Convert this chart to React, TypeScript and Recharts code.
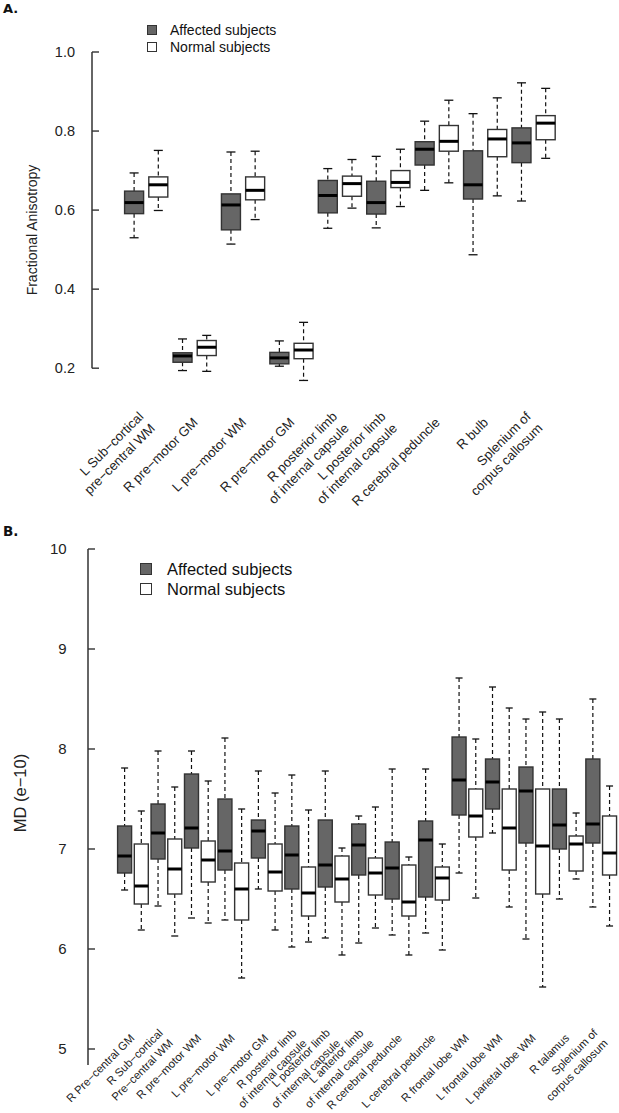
"use client";
import React from "react";
import { Bar, ComposedChart, Legend, ReferenceLine, XAxis, YAxis } from "recharts";

// Panel A: fractional anisotropy
const faRegions = [
  "L Sub−cortical\npre−central WM",
  "R pre−motor GM",
  "L pre−motor WM",
  "R pre−motor GM",
  "R posterior limb\nof internal capsule",
  "L posterior limb\nof internal capsule",
  "R cerebral peduncle",
  "R bulb",
  "Splenium of\ncorpus callosum",
];
// each box is [min, Q1, median, Q3, max]
const faAffected = [
  [0.53, 0.591, 0.619, 0.648, 0.694],
  [0.194, 0.215, 0.231, 0.239, 0.274],
  [0.514, 0.55, 0.613, 0.641, 0.747],
  [0.205, 0.211, 0.226, 0.24, 0.269],
  [0.554, 0.593, 0.637, 0.675, 0.705],
  [0.555, 0.59, 0.619, 0.673, 0.736],
  [0.65, 0.714, 0.754, 0.773, 0.825],
  [0.487, 0.628, 0.664, 0.75, 0.844],
  [0.623, 0.72, 0.77, 0.808, 0.922],
];
const faNormal = [
  [0.599, 0.633, 0.664, 0.684, 0.751],
  [0.192, 0.232, 0.253, 0.27, 0.283],
  [0.576, 0.626, 0.65, 0.684, 0.749],
  [0.169, 0.224, 0.246, 0.263, 0.316],
  [0.605, 0.635, 0.667, 0.686, 0.728],
  [0.609, 0.657, 0.67, 0.7, 0.754],
  [0.669, 0.749, 0.774, 0.814, 0.878],
  [0.636, 0.735, 0.78, 0.804, 0.884],
  [0.731, 0.778, 0.82, 0.839, 0.908],
];
const faTicks = [0.2, 0.4, 0.6, 0.8, 1.0];

// Panel B: mean diffusivity
const mdRegions = [
  "R Pre−central GM",
  "R Sub−cortical\nPre−central WM",
  "R pre−motor WM",
  "L pre−motor WM",
  "L pre−motor GM",
  "R posterior limb\nof internal capsule",
  "L posterior limb\nof internal capsule",
  "L anterior limb\nof internal capsule",
  "R cerebral peduncle",
  "L cerebral peduncle",
  "R frontal lobe WM",
  "L frontal lobe WM",
  "L parietal lobe WM",
  "R talamus",
  "Splenium of\ncorpus callosum",
];
const mdAffected = [
  [6.59, 6.76, 6.93, 7.23, 7.81],
  [6.43, 6.9, 7.16, 7.45, 7.98],
  [6.31, 7.01, 7.21, 7.75, 7.98],
  [6.29, 6.79, 6.98, 7.5, 8.11],
  [6.6, 6.91, 7.18, 7.29, 7.78],
  [6.02, 6.6, 6.94, 7.23, 7.74],
  [6.11, 6.62, 6.84, 7.29, 7.78],
  [6.06, 6.74, 7.04, 7.25, 7.33],
  [6.14, 6.5, 6.81, 7.07, 7.8],
  [6.16, 6.52, 7.09, 7.28, 7.8],
  [6.76, 7.34, 7.69, 8.12, 8.71],
  [7.16, 7.4, 7.67, 7.9, 8.62],
  [6.1, 7.06, 7.58, 7.82, 8.3],
  [6.5, 7.0, 7.24, 7.6, 8.3],
  [6.42, 7.06, 7.25, 7.9, 8.5],
];
const mdNormal = [
  [6.19, 6.45, 6.63, 7.05, 7.38],
  [6.13, 6.55, 6.8, 7.1, 7.62],
  [6.26, 6.67, 6.89, 7.08, 7.68],
  [5.71, 6.29, 6.6, 6.86, 7.4],
  [6.19, 6.58, 6.77, 7.05, 7.56],
  [6.07, 6.33, 6.56, 6.82, 7.39],
  [5.94, 6.47, 6.7, 6.93, 7.01],
  [6.21, 6.54, 6.76, 6.91, 7.42],
  [5.94, 6.33, 6.47, 6.84, 6.92],
  [5.99, 6.49, 6.71, 6.82, 7.05],
  [6.51, 7.12, 7.33, 7.6, 8.1],
  [6.42, 6.79, 7.21, 7.6, 8.41],
  [5.62, 6.55, 7.03, 7.6, 8.37],
  [6.7, 6.78, 7.05, 7.13, 7.36],
  [6.23, 6.74, 6.96, 7.33, 7.63],
];
const mdTicks = [5, 6, 7, 8, 9, 10];

const groups = ["Affected subjects", "Normal subjects"];

const FONT = '"Liberation Sans", Arial, Helvetica, sans-serif';
const DARK = "#666666";
const EDGE = "#333333";

// box + whiskers drawn inside the [min, max] range bar
const boxShape = (field: "aff" | "nor", fill: string, capW: number, medW: number) =>
  function BoxShape(props: any) {
    const { x, y, width, height, payload } = props;
    const [lo, q1, med, q3, hi] = payload[field];
    const top = Math.min(y, y + height);
    const bot = Math.max(y, y + height);
    const py = (v: number) => (hi === lo ? top : top + ((hi - v) / (hi - lo)) * (bot - top));
    const cx = x + width / 2;
    return (
      <g>
        <line x1={cx} x2={cx} y1={py(hi)} y2={py(q3)} stroke="#111" strokeWidth={1.2} strokeDasharray="4 3" />
        <line x1={cx} x2={cx} y1={py(q1)} y2={py(lo)} stroke="#111" strokeWidth={1.2} strokeDasharray="4 3" />
        <line x1={cx - capW / 2} x2={cx + capW / 2} y1={py(hi)} y2={py(hi)} stroke="#111" strokeWidth={1.3} />
        <line x1={cx - capW / 2} x2={cx + capW / 2} y1={py(lo)} y2={py(lo)} stroke="#111" strokeWidth={1.3} />
        <rect x={x} y={py(q3)} width={width} height={py(q1) - py(q3)} fill={fill} stroke={EDGE} strokeWidth={1.4} />
        <line x1={x} x2={x + width} y1={py(med)} y2={py(med)} stroke="#000" strokeWidth={medW} />
      </g>
    );
  };

const YTick = (props: any) => {
  const { x, y, payload, gap, fs, digits } = props;
  const ax = x + gap;
  return (
    <g>
      <line x1={ax} x2={ax + 7} y1={y} y2={y} stroke={EDGE} strokeWidth={1.4} />
      <text x={x} y={y} dy="0.36em" textAnchor="end" fontSize={fs} fontFamily={FONT} fill="#222">
        {payload.value.toFixed(digits)}
      </text>
    </g>
  );
};

const CatTick = (props: any) => {
  const { x, y, payload, dx0, dy0, fs, lh } = props;
  const lines = String(payload.value).split("\n");
  const ax = x + dx0;
  const ay = y + dy0;
  return (
    <text transform={`rotate(-45, ${ax}, ${ay})`} textAnchor="end" fontSize={fs} fontFamily={FONT} fill="#222">
      {lines.map((l, i) => (
        <tspan key={i} x={ax} y={ay + (i - (lines.length - 1) / 2) * lh} dy="0.35em">
          {l}
        </tspan>
      ))}
    </text>
  );
};

const AxisTitle = ({ cxPos, cyPos, fs, text }: any) => (
  <text
    x={cxPos}
    y={cyPos}
    transform={`rotate(-90, ${cxPos}, ${cyPos})`}
    textAnchor="middle"
    dy="0.35em"
    fontSize={fs}
    fontFamily={FONT}
    fill="#222"
  >
    {text}
  </text>
);

const LegendRows = ({ box, fs, row, gap }: any) => (
  <div style={{ fontFamily: FONT, fontSize: fs, color: "#111" }}>
    {groups.map((g, i) => (
      <div key={g} style={{ display: "flex", alignItems: "center", height: row }}>
        <span
          style={{
            display: "inline-block",
            boxSizing: "border-box",
            width: box,
            height: box,
            border: `1.4px solid ${EDGE}`,
            background: i === 0 ? DARK : "#fff",
            marginRight: gap,
          }}
        />
        <span>{g}</span>
      </div>
    ))}
  </div>
);

const FaPanel = () => {
  const data = faRegions.map((name, i) => ({ name, aff: faAffected[i], nor: faNormal[i] }));
  return (
    <ComposedChart
      width={619}
      height={530}
      data={data}
      margin={{ top: 52, right: 40, bottom: 0, left: 0 }}
      barSize={19}
      barGap={5.2}
    >
      <XAxis
        dataKey="name"
        interval={0}
        height={146}
        axisLine={false}
        tickLine={false}
        tickSize={0}
        tickMargin={0}
        padding={{ left: 29.6, right: 21.6 }}
        tick={(p: any) => <CatTick {...p} dx0={1} dy0={36} fs={13.2} lh={16.5} />}
      />
      <XAxis xAxisId="frame" type="number" domain={[0, 1]} hide />
      <YAxis
        width={92}
        domain={[0.16, 1.0]}
        ticks={faTicks}
        axisLine={false}
        tickLine={false}
        tickSize={0}
        tickMargin={17}
        tick={(p: any) => <YTick {...p} gap={17} fs={14.5} digits={1} />}
        label={<AxisTitle cxPos={32.5} cyPos={230} fs={14} text="Fractional Anisotropy" />}
      />
      <ReferenceLine
        xAxisId="frame"
        segment={[
          { x: 0, y: faTicks[0] },
          { x: 0, y: faTicks[faTicks.length - 1] },
        ]}
        stroke={EDGE}
        strokeWidth={1.5}
      />
      <Legend
        layout="vertical"
        align="center"
        verticalAlign="middle"
        wrapperStyle={{ top: 21.5, left: 147, width: 220 }}
        content={() => <LegendRows box={10} fs={14} row={17} gap={13} />}
      />
      <Bar dataKey={(d: any) => [d.aff[0], d.aff[4]]} name={groups[0]} shape={boxShape("aff", DARK, 9, 3)} isAnimationActive={false} />
      <Bar dataKey={(d: any) => [d.nor[0], d.nor[4]]} name={groups[1]} shape={boxShape("nor", "#fff", 9, 3)} isAnimationActive={false} />
    </ComposedChart>
  );
};

const MdPanel = () => {
  const data = mdRegions.map((name, i) => ({ name, aff: mdAffected[i], nor: mdNormal[i] }));
  return (
    <ComposedChart
      width={619}
      height={613}
      data={data}
      margin={{ top: 49, right: 0, bottom: 0, left: 0 }}
      barSize={14}
      barGap={2.7}
    >
      <XAxis
        dataKey="name"
        interval={0}
        height={48}
        axisLine={false}
        tickLine={false}
        tickSize={0}
        tickMargin={0}
        padding={{ left: 28.6, right: 0.7 }}
        tick={(p: any) => <CatTick {...p} dx0={-1} dy0={-29} fs={11.3} lh={14.5} />}
      />
      <YAxis
        width={88}
        domain={[4.84, 10]}
        ticks={mdTicks}
        axisLine={{ stroke: EDGE, strokeWidth: 1.5 }}
        tickLine={false}
        tickSize={0}
        tickMargin={21.3}
        tick={(p: any) => <YTick {...p} gap={21.3} fs={15} digits={0} />}
        label={<AxisTitle cxPos={20} cyPos={293} fs={16.5} text="MD (e−10)" />}
      />
      <Legend
        layout="vertical"
        align="center"
        verticalAlign="middle"
        wrapperStyle={{ top: 59.3, left: 140, width: 240 }}
        content={() => <LegendRows box={12} fs={16.5} row={20} gap={15} />}
      />
      <Bar dataKey={(d: any) => [d.aff[0], d.aff[4]]} name={groups[0]} shape={boxShape("aff", DARK, 7, 3)} isAnimationActive={false} />
      <Bar dataKey={(d: any) => [d.nor[0], d.nor[4]]} name={groups[1]} shape={boxShape("nor", "#fff", 7, 3)} isAnimationActive={false} />
    </ComposedChart>
  );
};

export default function App() {
  return (
    <div style={{ position: "absolute", left: 0, top: 0, width: 619, height: 1113, background: "#fff", overflow: "hidden" }}>
      <div style={{ position: "absolute", left: 0, top: 0 }}>
        <FaPanel />
      </div>
      <div style={{ position: "absolute", left: 0, top: 500 }}>
        <MdPanel />
      </div>
      <svg width={619} height={1113} style={{ position: "absolute", left: 0, top: 0, pointerEvents: "none" }}>
        <text x={3} y={13.3} fontSize={13} fontWeight="bold" fontFamily='"DejaVu Sans", sans-serif' fill="#111">
          A.
        </text>
        <text x={3} y={536} fontSize={13.5} fontWeight="bold" fontFamily='"DejaVu Sans", sans-serif' fill="#111">
          B.
        </text>
      </svg>
    </div>
  );
}
